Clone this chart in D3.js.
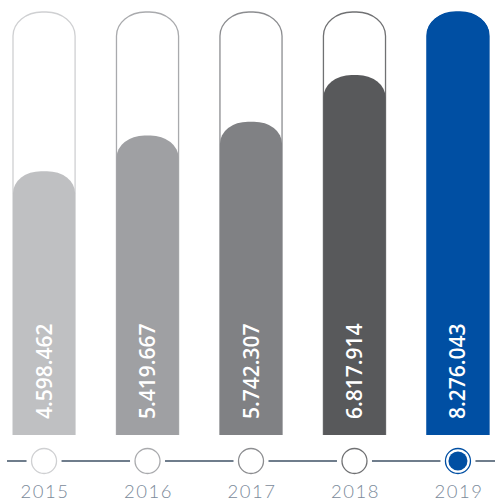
<!DOCTYPE html>
<html>
<head>
<meta charset="utf-8">
<script src="https://cdn.jsdelivr.net/npm/d3@7"></script>
<style>
  body { margin: 0; background: #fff; }
  svg { display: block; }
</style>
</head>
<body>
<svg id="drawing_region"></svg>
<script>
const years = ['2015', '2016', '2017', '2018', '2019'];
const values = [4598462, 5419667, 5742307, 6817914, 8276043];
const labels = ['4.598.462', '5.419.667', '5.742.307', '6.817.914', '8.276.043'];
const fills = ['#bfc0c2', '#9fa0a3', '#808184', '#58595b', '#004fa3'];
const strokes = ['#cfd0d2', '#a9aaad', '#8c8d90', '#707173', '#004fa3'];

const width = 495, height = 502;
const barTop = 12, barBottom = 435;
const lineY = 461;

const svg = d3.select('#drawing_region')
    .attr('width', width)
    .attr('height', height);

const x = d3.scaleBand()
    .domain(years)
    .range([13, 489])
    .paddingInner(0.4)
    .paddingOuter(0);

const y = d3.scaleLinear()
    .domain([-1500000, d3.max(values)])
    .range([barBottom, barTop]);

const data = years.map((yr, i) => ({ year: yr, value: values[i], label: labels[i], fill: fills[i], stroke: strokes[i] }));

// outline capsules
svg.selectAll('rect.outline').data(data).enter()
    .append('rect')
    .attr('class', 'outline')
    .attr('x', d => x(d.year))
    .attr('y', barTop)
    .attr('width', x.bandwidth())
    .attr('height', barBottom - barTop + 30)
    .attr('rx', 29)
    .attr('ry', 24)
    .attr('fill', '#fff')
    .attr('stroke', d => d.stroke)
    .attr('stroke-width', 1.3);

// fills, clipped flat at the bottom
svg.append('defs').append('clipPath').attr('id', 'clip')
    .append('rect')
    .attr('x', 0).attr('y', 0)
    .attr('width', width).attr('height', barBottom);

const g = svg.append('g').attr('clip-path', 'url(#clip)');

g.selectAll('rect.fillbar').data(data).enter()
    .append('rect')
    .attr('class', 'fillbar')
    .attr('x', d => x(d.year))
    .attr('y', d => y(d.value))
    .attr('width', x.bandwidth())
    .attr('height', d => barBottom - y(d.value) + 40)
    .attr('rx', 28)
    .attr('ry', 22)
    .attr('fill', d => d.fill);

// mask below the bars
svg.append('rect')
    .attr('x', 0).attr('y', barBottom)
    .attr('width', width).attr('height', height - barBottom)
    .attr('fill', '#fff');

// value labels
svg.selectAll('text.value').data(data).enter()
    .append('text')
    .attr('class', 'value')
    .attr('transform', d => `translate(${x(d.year) + x.bandwidth() / 2 + 7.5}, ${barBottom - 16}) rotate(-90)`)
    .attr('font-family', '"Open Sans", sans-serif')
    .attr('font-weight', 600)
    .attr('font-size', '21px')
    .attr('fill', '#fff')
    .text(d => d.label);

// timeline
const cx = d => x(d.year) + x.bandwidth() / 2;
const r = 12.5, gap = 5;
const segs = [[7, cx(data[0]) - r - gap]];
for (let i = 0; i < data.length - 1; i++) {
    segs.push([cx(data[i]) + r + gap, cx(data[i + 1]) - r - gap]);
}
segs.push([cx(data[data.length - 1]) + r + gap, width]);

svg.selectAll('line.seg').data(segs).enter()
    .append('line')
    .attr('x1', d => d[0])
    .attr('x2', d => d[1])
    .attr('y1', lineY)
    .attr('y2', lineY)
    .attr('stroke', '#6f7d8c')
    .attr('stroke-width', 2);

svg.selectAll('circle.dot').data(data).enter()
    .append('circle')
    .attr('class', 'dot')
    .attr('cx', cx)
    .attr('cy', lineY)
    .attr('r', r)
    .attr('fill', '#fff')
    .attr('stroke', (d, i) => i === data.length - 1 ? '#004fa3' : d.stroke)
    .attr('stroke-width', 1.3);

svg.append('circle')
    .attr('cx', cx(data[data.length - 1]))
    .attr('cy', lineY)
    .attr('r', 9.5)
    .attr('fill', '#004fa3');

// year labels
svg.selectAll('text.year').data(data).enter()
    .append('text')
    .attr('class', 'year')
    .attr('x', d => cx(d) + 1)
    .attr('y', 498)
    .attr('text-anchor', 'middle')
    .attr('font-family', 'Lato, sans-serif')
    .attr('font-weight', 300)
    .attr('font-size', '18.5px')
    .attr('letter-spacing', '1.5px')
    .attr('fill', '#7b8a9a')
    .text(d => d.year);
</script>
</body>
</html>
